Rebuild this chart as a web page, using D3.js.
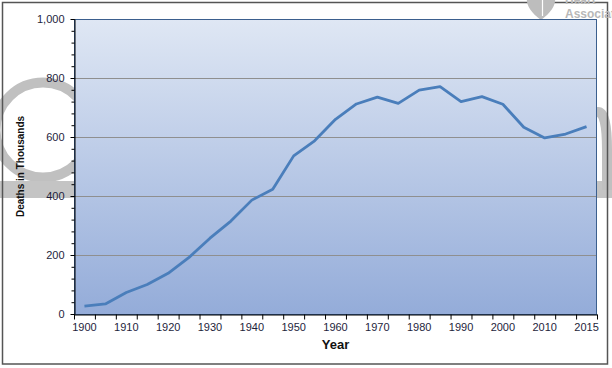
<!DOCTYPE html>
<html>
<head>
<meta charset="utf-8">
<script src="https://cdn.jsdelivr.net/npm/d3@7"></script>
<style>
  body { margin: 0; background: #fff; }
  svg { display: block; font-family: Arial, "Liberation Sans", sans-serif; }
</style>
</head>
<body>
<div id="chart"><svg width="612" height="368"></svg></div>
<script>
// Data
const years = ["1900", "1905", "1910", "1915", "1920", "1925", "1930", "1935", "1940", "1945",
  "1950", "1955", "1960", "1965", "1970", "1975", "1980", "1985", "1990", "1995",
  "2000", "2005", "2010", "2013", "2015"];
const deaths = [27, 34, 73, 100, 138, 192, 257, 315, 386, 423,
  536, 587, 660, 712, 735, 714, 759, 771, 720, 737,
  711, 633, 597, 610, 635];
const xLabels = ["1900", "1910", "1920", "1930", "1940", "1950", "1960", "1970", "1980", "1990", "2000", "2010", "2015"];
const yTicks = [0, 200, 400, 600, 800, 1000];

let svg = d3.select("div#chart svg"),
  plot = { left: 74, right: 597, top: 19, bottom: 314 };

// Scales
let x = d3.scaleBand().domain(years).range([plot.left, plot.right]);
let xIdx = d3.scaleLinear().domain([0, years.length]).range([plot.left, plot.right]);
let y = d3.scaleLinear().domain([0, 1000]).range([plot.bottom, plot.top]);

// Watermark behind the chart
let wm = svg.append("g").attr("class", "watermark");
wm.append("circle")
  .attr("cx", 43).attr("cy", 130).attr("r", 47.5)
  .attr("fill", "none").attr("stroke", "#c0c0c0").attr("stroke-width", 10);
wm.append("rect")
  .attr("x", 0).attr("y", 181).attr("width", 612).attr("height", 17)
  .attr("fill", "#c4c4c4");
wm.append("path")
  .attr("d", "M570,195 L570,150 Q570,112 598,112 Q607,112 607,150 L607,190")
  .attr("fill", "none").attr("stroke", "#c0c0c0").attr("stroke-width", 10);

// Outer border
svg.append("rect")
  .attr("x", 2.5).attr("y", 2.5).attr("width", 605).attr("height", 361.5)
  .attr("fill", "none").attr("stroke", "#555").attr("stroke-width", 1.5);

// Logo (top right, partially cut like the original)
let logo = svg.append("g").attr("class", "logo");
logo.append("path")
  .attr("d", "M541,20 C530,12 526,4 527,-2 C528,-8 536,-10 541,-4 C546,-10 554,-8 555,-2 C556,4 552,12 541,20 Z")
  .attr("fill", "#bdbdbd");
logo.append("line")
  .attr("x1", 542.5).attr("x2", 542.5).attr("y1", 0).attr("y2", 16)
  .attr("stroke", "#fff").attr("stroke-width", 1.2);
logo.append("text")
  .attr("x", 565).attr("y", 4)
  .style("font-size", "12px").style("font-weight", "bold").style("fill", "#b8b8b8")
  .text("Heart");
logo.append("text")
  .attr("x", 565).attr("y", 17.5)
  .style("font-size", "12px").style("font-weight", "bold").style("fill", "#b8b8b8")
  .text("Association");

// Plot background gradient
let defs = svg.append("defs");
let grad = defs.append("linearGradient")
  .attr("id", "bg").attr("x1", 0).attr("y1", 0).attr("x2", 0).attr("y2", 1);
grad.append("stop").attr("offset", "0%").attr("stop-color", "#dfe7f4");
grad.append("stop").attr("offset", "100%").attr("stop-color", "#94acd9");

svg.append("rect")
  .attr("x", plot.left).attr("y", plot.top)
  .attr("width", plot.right - plot.left).attr("height", plot.bottom - plot.top)
  .attr("fill", "url(#bg)");

// Gridlines
svg.append("g")
  .attr("class", "grid")
  .selectAll("line")
  .data(yTicks.filter(d => d > 0 && d < 1000))
  .enter()
  .append("line")
    .attr("x1", plot.left).attr("x2", plot.right)
    .attr("y1", d => Math.round(y(d)) + 0.5).attr("y2", d => Math.round(y(d)) + 0.5)
    .attr("stroke", "#8f8f8f").attr("stroke-width", 1);

// Plot border
svg.append("rect")
  .attr("x", plot.left + 0.5).attr("y", plot.top + 0.5)
  .attr("width", plot.right - plot.left - 1).attr("height", plot.bottom - plot.top)
  .attr("fill", "none").attr("stroke", "#3b5f8e").attr("stroke-width", 1);

// Line
let line = d3.line()
  .x((d, i) => x(years[i]) + x.bandwidth() / 2)
  .y(d => y(d));

svg.append("path")
  .datum(deaths)
  .attr("class", "line")
  .attr("d", line)
  .attr("fill", "none")
  .attr("stroke", "#4a7ebb")
  .attr("stroke-width", 2.8)
  .attr("stroke-linejoin", "round");

// Y axis: minor ticks, then major ticks with labels
svg.append("g")
  .attr("transform", "translate(" + (plot.left + 0.5) + ",0)")
  .call(d3.axisLeft(y).tickValues(d3.range(0, 1001, 40)).tickSize(3).tickFormat(""))
  .call(g => g.select(".domain").remove())
  .selectAll("line").attr("stroke", "#000");

let yAxis = svg.append("g")
  .attr("class", "axis axis_y")
  .attr("transform", "translate(" + (plot.left + 0.5) + ",0)")
  .call(d3.axisLeft(y).tickValues(yTicks).tickSize(4).tickPadding(6).tickFormat(d3.format(",")).tickSizeOuter(0));
yAxis.select(".domain").attr("stroke", "#000");
yAxis.selectAll("line").attr("stroke", "#000");
yAxis.selectAll("text").style("font-size", "11px").style("fill", "#1e1e3c").style("font-family", "Arial, 'Liberation Sans', sans-serif");

// X axis: tick marks at category boundaries
let xTickAxis = svg.append("g")
  .attr("transform", "translate(0," + (plot.bottom + 0.5) + ")")
  .call(d3.axisBottom(xIdx).tickValues(d3.range(0, years.length + 1)).tickSize(5).tickFormat("").tickSizeOuter(0));
xTickAxis.select(".domain").attr("stroke", "#000");
xTickAxis.selectAll("line").attr("stroke", "#000");

let xAxis = svg.append("g")
  .attr("class", "axis axis_x")
  .attr("transform", "translate(0," + (plot.bottom + 0.5) + ")")
  .call(d3.axisBottom(x).tickValues(xLabels).tickSize(0).tickPadding(9));
xAxis.select(".domain").remove();
xAxis.selectAll("text").style("font-size", "11px").style("fill", "#1e1e3c").style("font-family", "Arial, 'Liberation Sans', sans-serif");

// Axis titles
svg.append("text")
  .attr("x", (plot.left + plot.right) / 2)
  .attr("y", 349)
  .style("font-size", "13px")
  .style("font-weight", "bold")
  .style("text-anchor", "middle")
  .style("fill", "#111")
  .text("Year");

svg.append("text")
  .attr("transform", "rotate(-90)")
  .attr("x", -(plot.top + plot.bottom) / 2)
  .attr("y", 24)
  .style("font-size", "10px")
  .style("font-weight", "bold")
  .style("text-anchor", "middle")
  .style("fill", "#111")
  .text("Deaths in Thousands");
</script>
</body>
</html>
